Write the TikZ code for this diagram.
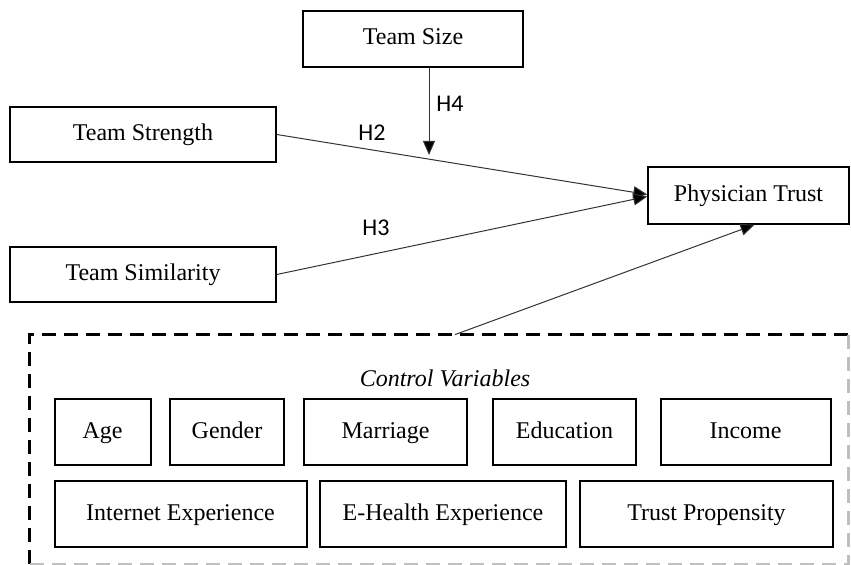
\documentclass[tikz,border=0pt]{standalone}
\usepackage{fontspec}
\setmainfont{Liberation Serif}
\newfontfamily\hfont{Carlito}
\usetikzlibrary{positioning,calc,arrows.meta}

\begin{document}
\begin{tikzpicture}[x=0.5pt,y=-0.5pt,
    box/.style={rectangle, draw, line width=0.75pt, inner sep=0pt, text height=8.5pt, text depth=2.8pt, font=\fontsize{12}{14}\selectfont},
    ctrl/.style={rectangle, draw, line width=1pt, inner sep=0pt, minimum height=33pt, text height=8.5pt, text depth=2.8pt, font=\fontsize{12}{14}\selectfont},
    path/.style={draw=black!80, line width=0.5pt, -{Triangle[length=7pt,width=6pt,fill=black]}},
    hyp/.style={font=\hfont\fontsize{12}{14}\selectfont},
    frame/.style={line width=1.5pt, dash pattern=on 7pt off 4pt}
]
    \useasboundingbox (0,0) rectangle (851,565);

    % constructs
    \node[box, minimum width=110pt, minimum height=28pt] (teamsize) at (413,39) {Team Size};
    \node[box, minimum width=133pt, minimum height=27.5pt] (strength) at (143,134.5) {Team Strength};
    \node[box, minimum width=133pt, minimum height=27.5pt] (similarity) at (143,274.5) {Team Similarity};
    \node[box, minimum width=100.5pt, minimum height=28.5pt] (trust) at (748.5,195.5) {Physician Trust};

    % control variables
    \node[minimum width=409pt, minimum height=114.5pt, inner sep=0pt] (controls) at (439,449.5) {};
    \draw[frame] (controls.south west) -- (controls.north west) -- (controls.north east);
    \draw[frame, black!25] (controls.north east) -- (controls.south east) -- (controls.south west);
    \node[font=\itshape\fontsize{12}{14}\selectfont] (ctrltitle) at (445,378) {Control Variables};

    \node[ctrl, minimum width=48pt] (age) at (102.5,432.5) {Age};
    \node[ctrl, minimum width=57pt] (gender) at (227,432.5) {Gender};
    \node[ctrl, minimum width=81.5pt] (marriage) at (385.5,432.5) {Marriage};
    \node[ctrl, minimum width=71.5pt] (education) at (564.5,432.5) {Education};
    \node[ctrl, minimum width=85pt] (income) at (745.5,432.5) {Income};
    \node[ctrl, minimum width=126pt] (internet) at (180.5,514.5) {Internet Experience};
    \node[ctrl, minimum width=123pt] (ehealth) at (443,514.5) {E-Health Experience};
    \node[ctrl, minimum width=126.5pt] (propensity) at (706.5,514.5) {Trust Propensity};

    % hypotheses
    \coordinate (h4end) at (429,155);
    \draw[path] ([xshift=8pt]teamsize.south) -- (h4end);
    \draw[path] (strength.east) -- ([yshift=0.5pt]trust.west);
    \draw[path] (similarity.east) -- ([yshift=-0.5pt]trust.west);
    \draw[path] ([xshift=8pt]controls.north) -- ([xshift=3pt]trust.south);

    \node[hyp] (h2) at (372,133) {H2};
    \node[hyp] (h3) at (376,228) {H3};
    \node[hyp] (h4) at (450,104) {H4};
\end{tikzpicture}
\end{document}
